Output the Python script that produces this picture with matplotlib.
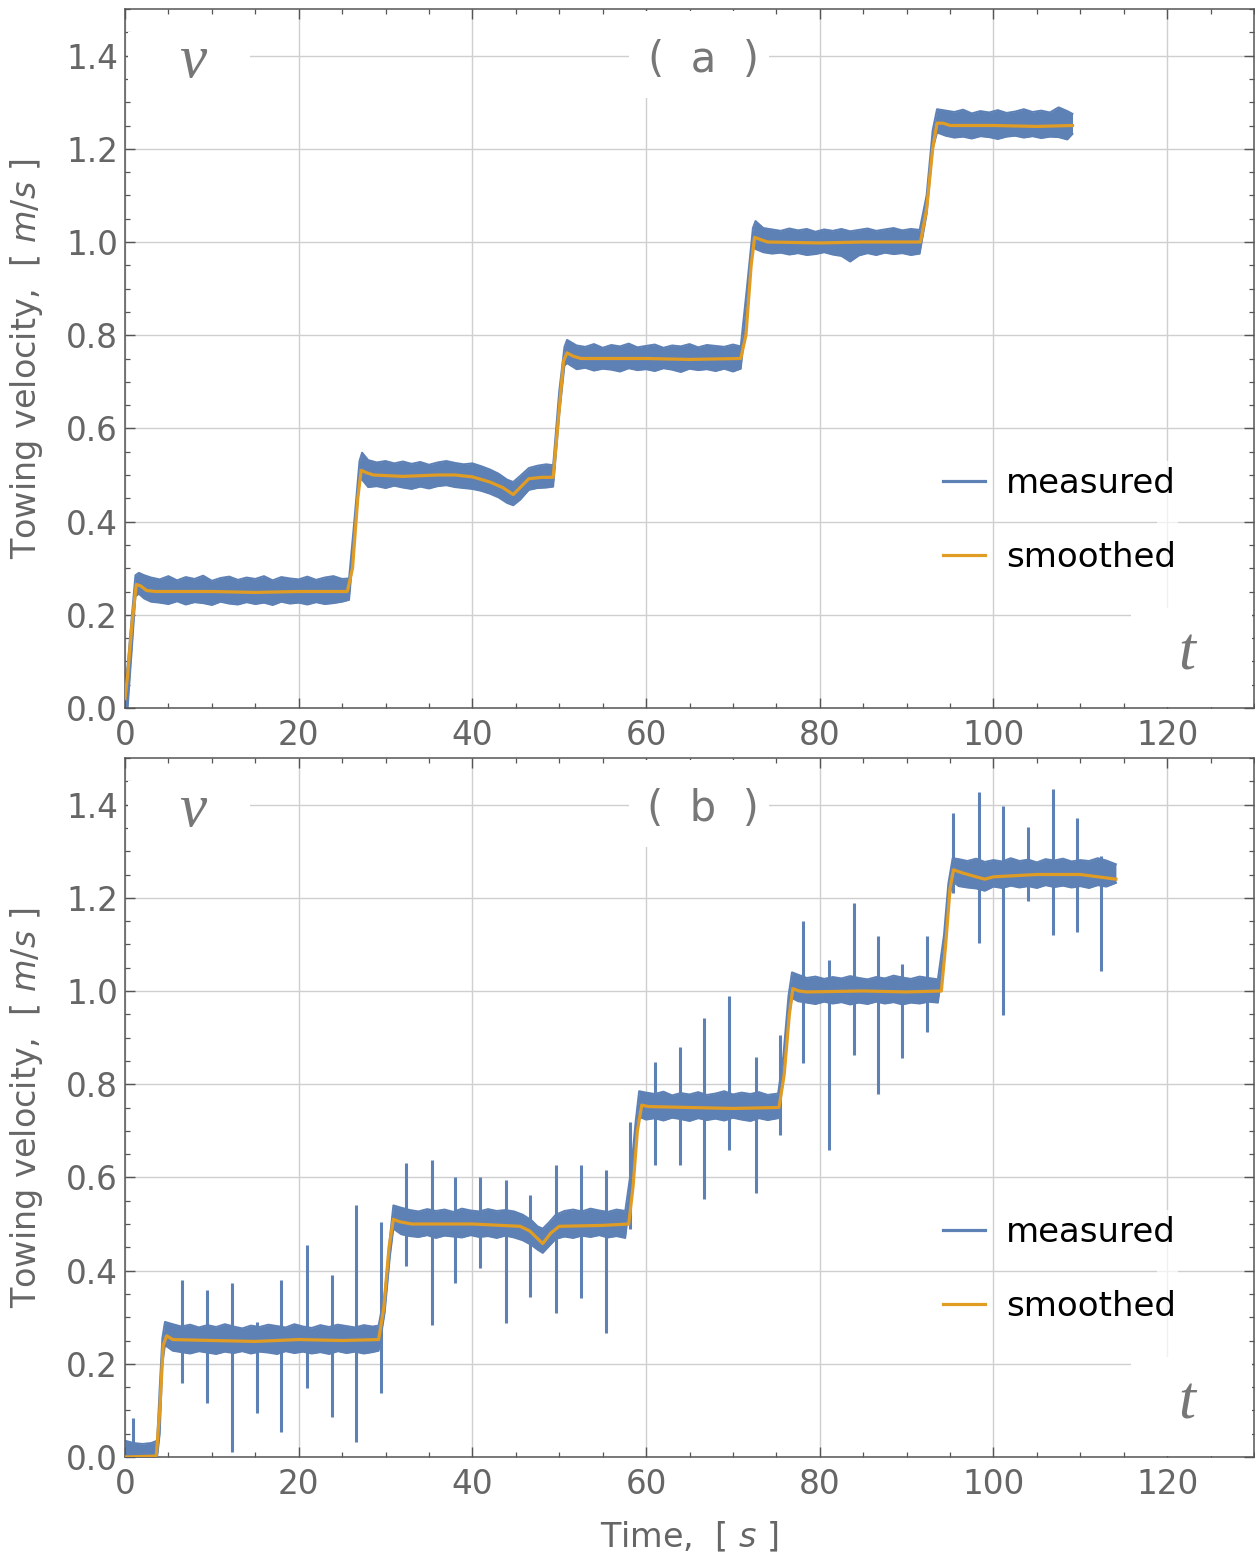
import matplotlib
matplotlib.use("Agg")
import matplotlib.pyplot as plt
from matplotlib.lines import Line2D
from matplotlib.patches import Rectangle
from matplotlib.ticker import MultipleLocator

plt.rcParams['font.family'] = ['DejaVu Sans']
plt.rcParams['mathtext.fontset'] = 'dejavusans'

BLUE = '#5E81B5'
ORANGE = '#E19C24'
GRAY = '#666666'

# ---------------- panel (a) ----------------
a_t = [0, 0.3, 0.8, 1.2, 1.6, 2.2, 3, 4, 5, 6, 7, 8, 9, 10, 11, 12, 13, 14, 15, 16, 17, 18, 19, 20,
       21, 22, 23, 24, 25, 25.8, 26.4, 27.0, 27.3,
       28, 29, 30, 31, 32, 33, 34, 35, 36, 37, 38, 39, 40, 41, 42, 43, 44, 44.7, 45.5, 46.5, 47.5,
       48.5, 49.3, 50.0, 50.6, 50.9,
       52, 53, 54, 55, 56, 57, 58, 59, 60, 61, 62, 63, 64, 65, 66, 67, 68, 69, 70, 70.9,
       71.6, 72.3, 72.6,
       73.5, 74.5, 75.5, 76.5, 77.5, 78.5, 79.5, 80.5, 81.5, 82.5, 83.5, 84.5, 85.5, 86.5, 87.5,
       88.5, 89.5, 90.5, 91.5, 92.3, 93.0, 93.5,
       94.5, 95.5, 96.5, 97.5, 98.5, 99.5, 100.5, 101.5, 102.5, 103.5, 104.5, 105.5, 106.5,
       107.5, 108.5, 109.1]
a_hi = [0.05, 0.09, 0.20, 0.285, 0.29, 0.285, 0.280, 0.276, 0.283, 0.274, 0.281, 0.277, 0.284,
        0.273, 0.279, 0.282, 0.275, 0.280, 0.277, 0.283, 0.274, 0.281, 0.278, 0.276, 0.282, 0.275,
        0.280, 0.283, 0.277, 0.278, 0.40, 0.53, 0.548,
        0.532, 0.527, 0.530, 0.525, 0.529, 0.524, 0.528, 0.522, 0.527, 0.530, 0.526, 0.523, 0.525,
        0.519, 0.512, 0.503, 0.490, 0.485, 0.498, 0.515, 0.520, 0.523, 0.521, 0.68, 0.775, 0.79,
        0.778, 0.775, 0.781, 0.773, 0.779, 0.776, 0.782, 0.774, 0.777, 0.780, 0.773, 0.778, 0.776,
        0.781, 0.774, 0.779, 0.777, 0.775, 0.780, 0.776, 0.90, 1.03, 1.045,
        1.030, 1.027, 1.024, 1.029, 1.025, 1.028, 1.022, 1.027, 1.024, 1.028, 1.023, 1.026, 1.029,
        1.024, 1.027, 1.030, 1.025, 1.028, 1.026, 1.10, 1.24, 1.285,
        1.282, 1.279, 1.284, 1.276, 1.281, 1.278, 1.283, 1.277, 1.280, 1.285, 1.279, 1.282, 1.278,
        1.289, 1.281, 1.275]
a_lo = [0.0, 0.0, 0.13, 0.24, 0.245, 0.235, 0.228, 0.226, 0.223, 0.229, 0.222, 0.227, 0.225,
        0.221, 0.228, 0.224, 0.222, 0.227, 0.223, 0.226, 0.221, 0.228, 0.224, 0.226, 0.222, 0.227,
        0.223, 0.225, 0.228, 0.232, 0.36, 0.49, 0.49,
        0.474, 0.476, 0.472, 0.477, 0.473, 0.470, 0.475, 0.471, 0.476, 0.478, 0.474, 0.472, 0.470,
        0.466, 0.460, 0.452, 0.440, 0.435, 0.447, 0.468, 0.472, 0.473, 0.475, 0.63, 0.735, 0.74,
        0.727, 0.730, 0.724, 0.728, 0.726, 0.722, 0.729, 0.725, 0.727, 0.723, 0.729, 0.726, 0.721,
        0.728, 0.725, 0.727, 0.723, 0.728, 0.722, 0.728, 0.85, 0.99, 0.985,
        0.978, 0.975, 0.977, 0.973, 0.976, 0.972, 0.974, 0.978, 0.973, 0.970, 0.958, 0.971, 0.976,
        0.972, 0.977, 0.974, 0.976, 0.972, 0.975, 1.06, 1.20, 1.235,
        1.228, 1.224, 1.226, 1.222, 1.227, 1.225, 1.221, 1.226, 1.228, 1.224, 1.227, 1.223, 1.226,
        1.225, 1.220, 1.232]

a_smooth_t = [0, 0.3, 0.8, 1.3, 1.8, 2.5, 3.5, 10, 15, 20, 25.6, 26.2, 26.8, 27.2, 27.8, 28.6,
              32, 36, 38, 40, 42, 43.5, 44.7, 45.6, 46.5, 48, 49.3, 49.9, 50.5, 50.9, 51.6, 52.5,
              60, 65, 70.9, 71.5, 72.1, 72.5, 73.2, 74, 80, 85, 91.6, 92.3, 93, 93.5, 94.2, 95,
              100, 105, 109.1]
a_smooth_v = [0.02, 0.07, 0.18, 0.265, 0.262, 0.252, 0.25, 0.25, 0.248, 0.25, 0.25, 0.30, 0.45,
              0.51, 0.505, 0.50, 0.497, 0.50, 0.50, 0.496, 0.485, 0.473, 0.458, 0.475, 0.492,
              0.495, 0.495, 0.62, 0.745, 0.762, 0.755, 0.75, 0.75, 0.748, 0.75, 0.80, 0.95, 1.01,
              1.005, 1.0, 0.998, 1.0, 1.0, 1.07, 1.2, 1.255, 1.255, 1.25, 1.25, 1.248, 1.25]

# ---------------- panel (b) ----------------
b_t = [0, 1, 2, 3, 3.7, 4.0, 4.3, 4.6,
       5.5, 6.5, 7.5, 8.5, 9.5, 10.5, 11.5, 12.5, 13.5, 14.5, 15.5, 16.5, 17.5, 18.5, 19.5, 20.5,
       21.5, 22.5, 23.5, 24.5, 25.5, 26.5, 27.5, 28.5, 29.2, 29.9, 30.5, 30.9,
       31.8, 32.8, 33.8, 34.8, 35.8, 36.8, 37.8, 38.8, 39.8, 40.8, 41.8, 42.8, 43.8, 44.8, 45.8,
       46.8, 47.5, 48.1, 48.8, 49.6, 50.6, 51.6, 52.6, 53.6, 54.6, 55.6, 56.6, 57.6, 58.3, 58.8, 59.2,
       60, 61, 62, 63, 64, 65, 66, 67, 68, 69, 70, 71, 72, 73, 74, 75.2, 75.8, 76.4, 76.8,
       77.5, 78.5, 79.5, 80.5, 81.5, 82.5, 83.5, 84.5, 85.5, 86.5, 87.5, 88.5, 89.5, 90.5, 91.5,
       92.5, 93.6, 94.3, 94.8, 95.3,
       96, 97, 98, 99, 100, 101, 102, 103, 104, 105, 106, 107, 108, 109, 110, 111, 112, 113, 114.1]
b_hi = [0.035, 0.03, 0.028, 0.03, 0.035, 0.15, 0.255, 0.29,
        0.285, 0.280, 0.284, 0.278, 0.283, 0.279, 0.285, 0.280, 0.276, 0.282, 0.279, 0.284, 0.281,
        0.278, 0.285, 0.280, 0.277, 0.283, 0.279, 0.284, 0.281, 0.278, 0.283, 0.280, 0.282, 0.35,
        0.47, 0.54,
        0.535, 0.530, 0.527, 0.532, 0.528, 0.531, 0.526, 0.533, 0.529, 0.527, 0.532, 0.528, 0.530,
        0.527, 0.520, 0.508, 0.495, 0.490, 0.503, 0.520, 0.528, 0.531, 0.527, 0.533, 0.529, 0.526,
        0.531, 0.528, 0.62, 0.72, 0.785,
        0.782, 0.779, 0.784, 0.776, 0.781, 0.778, 0.783, 0.777, 0.780, 0.785, 0.778, 0.782, 0.779,
        0.783, 0.777, 0.780, 0.86, 0.99, 1.04,
        1.035, 1.028, 1.031, 1.026, 1.030, 1.027, 1.032, 1.028, 1.025, 1.030, 1.027, 1.033, 1.029,
        1.026, 1.031, 1.028, 1.025, 1.12, 1.23, 1.285,
        1.283, 1.279, 1.284, 1.277, 1.281, 1.278, 1.285, 1.279, 1.282, 1.276, 1.283, 1.280, 1.284,
        1.278, 1.281, 1.279, 1.285, 1.280, 1.272]
b_lo = [0.0, 0.0, 0.0, 0.0, 0.0, 0.05, 0.20, 0.24,
        0.228, 0.225, 0.222, 0.227, 0.224, 0.221, 0.226, 0.223, 0.227, 0.222, 0.226, 0.224, 0.221,
        0.227, 0.223, 0.226, 0.222, 0.225, 0.221, 0.227, 0.223, 0.226, 0.222, 0.225, 0.228, 0.31,
        0.43, 0.49,
        0.478, 0.474, 0.472, 0.476, 0.470, 0.475, 0.473, 0.471, 0.476, 0.472, 0.474, 0.470, 0.475,
        0.471, 0.465, 0.455, 0.445, 0.438, 0.452, 0.468, 0.473, 0.470, 0.475, 0.472, 0.476, 0.471,
        0.474, 0.470, 0.58, 0.69, 0.73,
        0.724, 0.727, 0.722, 0.728, 0.725, 0.721, 0.727, 0.723, 0.726, 0.722, 0.728, 0.724, 0.721,
        0.727, 0.723, 0.727, 0.81, 0.94, 0.985,
        0.978, 0.975, 0.972, 0.977, 0.973, 0.976, 0.971, 0.975, 0.972, 0.977, 0.973, 0.976, 0.971,
        0.975, 0.973, 0.977, 0.975, 1.07, 1.19, 1.235,
        1.225, 1.222, 1.220, 1.215, 1.224, 1.221, 1.226, 1.222, 1.225, 1.221, 1.227, 1.223, 1.226,
        1.222, 1.225, 1.221, 1.227, 1.224, 1.232]

b_smooth_t = [0, 3.6, 4.0, 4.4, 4.8, 5.5, 10, 15, 20, 25, 29.2, 29.8, 30.4, 30.9, 31.6, 33, 40,
              45.5, 46.6, 48.1, 49.0, 50, 55, 58.0, 58.5, 59.0, 59.5, 60.3, 65, 70, 75.3, 75.9,
              76.5, 76.9, 77.6, 78.5, 85, 90, 94.0, 94.5, 95.0, 95.4, 96.5, 98, 99, 100, 105,
              110, 114.1]
b_smooth_v = [0, 0.002, 0.10, 0.24, 0.26, 0.252, 0.25, 0.248, 0.252, 0.25, 0.252, 0.32, 0.45,
              0.51, 0.505, 0.50, 0.50, 0.495, 0.485, 0.458, 0.48, 0.495, 0.497, 0.50, 0.58, 0.70,
              0.755, 0.752, 0.75, 0.748, 0.75, 0.82, 0.95, 1.005, 1.0, 0.998, 1.0, 0.998, 1.0,
              1.10, 1.22, 1.26, 1.253, 1.245, 1.24, 1.245, 1.25, 1.25, 1.24]

b_spike_t = [0.88, 6.6, 9.4, 12.35, 15.15, 18.0, 20.9, 23.8, 26.65, 29.45, 32.4, 35.3, 38.05,
             40.9, 43.85, 46.6, 49.6, 52.5, 55.4, 58.2, 61.0, 63.9, 66.7, 69.6, 72.6, 75.4, 78.1,
             81.05, 83.9, 86.7, 89.5, 92.4, 95.3, 98.3, 101.1, 103.95, 106.8, 109.6, 112.4]
b_spike_top = [0.083, 0.38, 0.358, 0.373, 0.29, 0.38, 0.455, 0.39, 0.54, 0.504, 0.63, 0.637,
               0.60, 0.60, 0.594, 0.562, 0.626, 0.626, 0.615, 0.718, 0.847, 0.88, 0.941, 0.99,
               0.858, 0.905, 1.151, 1.066, 1.188, 1.119, 1.059, 1.119, 1.381, 1.426, 1.398,
               1.351, 1.434, 1.372, 1.29]
b_spike_bot = [0.0, 0.158, 0.115, 0.01, 0.095, 0.054, 0.148, 0.086, 0.032, 0.137, 0.41, 0.283,
               0.373, 0.405, 0.287, 0.343, 0.309, 0.341, 0.266, 0.49, 0.626, 0.626, 0.553, 0.658,
               0.566, 0.69, 0.845, 0.658, 0.862, 0.78, 0.857, 0.911, 1.21, 1.102, 0.948, 1.194,
               1.121, 1.126, 1.042]

x_major = [0, 20, 40, 60, 80, 100, 120]
y_major = [0.0, 0.2, 0.4, 0.6, 0.8, 1.0, 1.2, 1.4]
legend_labels = ['measured', 'smoothed']

fig = plt.figure(figsize=(12.55, 15.59), dpi=100)
W, H = 1255, 1559
L, R = 125, 1254
axes_px = [(9, 708), (758, 1457)]
panels = [
    dict(t=a_t, hi=a_hi, lo=a_lo, st=a_smooth_t, sv=a_smooth_v, tag='(  a  )', spikes=None),
    dict(t=b_t, hi=b_hi, lo=b_lo, st=b_smooth_t, sv=b_smooth_v, tag='(  b  )',
         spikes=(b_spike_t, b_spike_bot, b_spike_top)),
]

for i, ((top, bot), p) in enumerate(zip(axes_px, panels)):
    ax = fig.add_axes([L / W, 1 - bot / H, (R - L) / W, (bot - top) / H])
    ax.set_xlim(0, 130)
    ax.set_ylim(0, 1.5)
    ax.set_axisbelow(True)
    ax.set_xticks(x_major)
    ax.set_yticks(y_major)
    ax.set_yticklabels([f'{v:.1f}' for v in y_major])
    ax.xaxis.set_minor_locator(MultipleLocator(5))
    ax.yaxis.set_minor_locator(MultipleLocator(0.05))
    ax.tick_params(which='both', direction='in', top=True, right=True, colors='#555555',
                   labelcolor=GRAY, labelsize=23.5)
    ax.tick_params(which='major', length=7, width=1.0)
    ax.tick_params(which='minor', length=3.8, width=0.9)
    ax.tick_params(axis='x', pad=8)
    ax.tick_params(axis='y', pad=5)
    for s in ax.spines.values():
        s.set_color('#555555')
        s.set_linewidth(1.1)
    ax.grid(True, which='major', color='#cfcfcf', lw=1.0)

    # white masks behind labels (cover gridlines)
    ax.add_patch(Rectangle((0.3, 1.33), 14.1, 0.12, facecolor='white', edgecolor='none', zorder=1))
    ax.add_patch(Rectangle((58, 1.31), 16.2, 0.185, facecolor='white', edgecolor='none', zorder=1))
    ax.add_patch(Rectangle((115.8, 0.003), 14.0, 0.211, facecolor='white', edgecolor='none', zorder=1))
    ax.add_patch(Rectangle((118.8, 0.214), 2.4, 0.316, facecolor='white', edgecolor='none',
                           alpha=0.7, zorder=1))

    # measured signal
    ax.fill_between(p['t'], p['lo'], p['hi'], color=BLUE, lw=0, zorder=2)
    ax.plot(p['t'], p['hi'], color=BLUE, lw=1.4, zorder=2)
    ax.plot(p['t'], p['lo'], color=BLUE, lw=1.4, zorder=2)
    if p['spikes'] is not None:
        st_, sb_, stp_ = p['spikes']
        ax.vlines(st_, sb_, stp_, color=BLUE, lw=2.2, zorder=2)
    # smoothed
    ax.plot(p['st'], p['sv'], color=ORANGE, lw=2.3, zorder=3)

    ax.text(7.8, 1.385, 'v', family='Liberation Serif', style='italic', fontsize=44,
            color='#777777', ha='center', va='center', zorder=4)
    ax.text(122.3, 0.114, 't', family='Liberation Serif', style='italic', fontsize=44,
            color='#777777', ha='center', va='center', zorder=4)
    ax.text(66.6, 1.39, p['tag'], fontsize=30, color='#777777', ha='center', va='center', zorder=4)

    handles = [Line2D([], [], color=BLUE, lw=2.3), Line2D([], [], color=ORANGE, lw=2.3)]
    ax.legend(handles, legend_labels, loc='center left', bbox_to_anchor=(0.7245, 0.268),
              frameon=False, fontsize=24.5, handlelength=1.24, handletextpad=0.62,
              labelspacing=1.2, borderpad=0, borderaxespad=0)

    ax.set_ylabel('Towing velocity,  [ $m/s$ ]', fontsize=24, color=GRAY)
    ax.yaxis.set_label_coords(-0.071, 0.5)
    if i == 1:
        ax.set_xlabel('Time,  [ $s$ ]', fontsize=24, color=GRAY)
        ax.xaxis.set_label_coords(0.5, -0.09)

fig.savefig('out.png', dpi=100, facecolor='white')
